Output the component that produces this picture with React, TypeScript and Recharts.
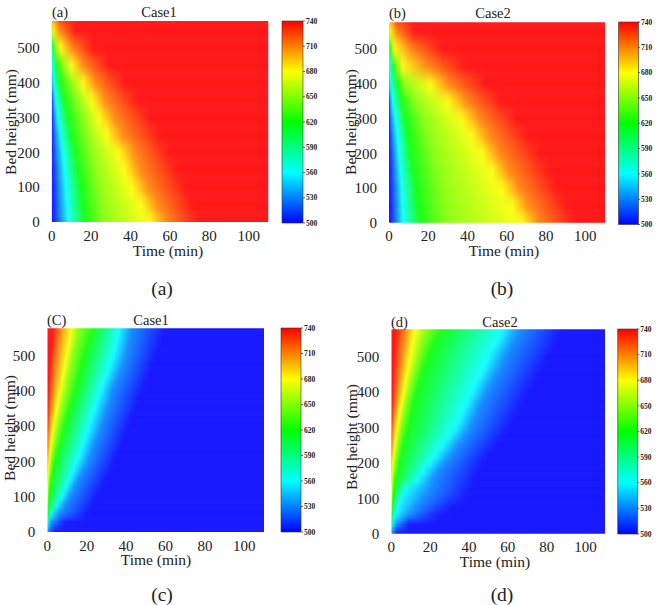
import React from "react";
import { ComposedChart, BarChart, Bar, XAxis, YAxis } from "recharts";

const timeTicks = [0, 20, 40, 60, 80, 100];
const heightTicks = [0, 100, 200, 300, 400, 500];
const barTicks = [500, 530, 560, 590, 620, 650, 680, 710, 740];
const barColors = ["#0000ff", "#0080ff", "#00ffff", "#00ff80", "#00ff00", "#80ff00", "#ffff00", "#ff8000", "#ff0000"];
const risingLevels = [500, 530, 560, 620, 650, 680, 710, 740];
const fallingLevels = [740, 710, 680, 650, 620, 560, 530, 500];

// Each row: the time (min) at which the bed height reaches each level of the list above.
const heightsCoarse = [0, 50, 100, 150, 200, 250, 300, 350, 400, 450, 500, 550, 600];
const heightsFine = [0, 25, 50, 75, 100, 125, 150, 175, 200, 225, 250, 275, 300, 325, 350, 375, 400, 425, 450, 475, 500, 525, 550, 575, 600];

const panelA = [
  [0.5, 4.5, 8.4, 17, 27, 50, 58, 75],
  [0.5, 4, 7.8, 16, 25.5, 45.5, 53.5, 71.5],
  [0.3, 3.7, 7.2, 15, 24, 40.6, 49, 68],
  [0.2, 3.2, 6.5, 13.5, 22, 37, 45, 64],
  [0, 2.6, 5.6, 12, 20, 33.8, 42, 60],
  [0, 2, 4.4, 10.3, 18, 28, 36, 55],
  [0, 1.3, 3, 8.5, 16, 24, 32, 50],
  [0, 0.7, 2, 6.5, 13, 20.5, 27, 44],
  [0, 0, 0.8, 4.3, 9.8, 16, 22, 37],
  [0, 0, 0.3, 2.5, 6, 10, 16, 29],
  [0, 0, 0, 0.7, 2, 4.5, 10, 21],
  [0, 0, 0, 0, 0.1, 0.7, 4, 12],
  [0, 0, 0, 0, 0, 0, 0, 4],
];
const panelB = [
  [0.5, 4, 7, 16, 30, 68, 76, 95],
  [0.5, 3.8, 6.7, 15, 28.5, 62.8, 71, 91],
  [0.3, 3.5, 6.3, 14, 27, 57.5, 66, 86],
  [0.2, 3, 5.7, 12.5, 25, 52.5, 61, 82],
  [0, 2.5, 5, 11, 23, 47.5, 56, 77],
  [0, 1.8, 4.2, 10, 20.5, 42.3, 51, 71],
  [0, 1, 3.2, 8.5, 17.5, 37, 46, 65],
  [0, 0.5, 1.8, 6.5, 13, 30, 39, 57],
  [0, 0, 0.5, 4.5, 8, 21, 30, 49],
  [0, 0, 0.2, 2.5, 4.2, 7, 19, 39],
  [0, 0, 0, 0.7, 1.3, 2.8, 11, 27],
  [0, 0, 0, 0, 0, 0.5, 4, 13],
  [0, 0, 0, 0, 0, 0, 0.5, 4],
];
const panelC = [
  [0, 0, 0, 0, 0, 0, 0, 4],
  [0, 0, 0, 0, 0, 0.3, 2, 9],
  [0, 0, 0, 0, 0.2, 2, 6, 20],
  [0, 0, 0, 0.1, 0.5, 4.8, 9, 23],
  [0, 0, 0, 0.3, 1, 7.5, 11.5, 25],
  [0, 0, 0.1, 0.6, 1.6, 9.5, 13.8, 27.5],
  [0, 0, 0.2, 1, 2.3, 11.5, 16, 30],
  [0, 0, 0.5, 1.5, 3.1, 13.3, 18.5, 32],
  [0, 0.1, 0.8, 2, 4, 15, 21, 34],
  [0, 0.2, 1.3, 2.8, 5.2, 16.7, 22.5, 36],
  [0, 0.4, 1.8, 3.7, 6.5, 18.3, 24, 38],
  [0, 0.7, 2.4, 4.6, 7.8, 19.7, 26, 39.5],
  [0, 1, 3, 5.5, 9, 21, 27.5, 41],
  [0, 1.5, 3.8, 6.5, 10.3, 22.5, 29, 43],
  [0.1, 2, 4.6, 7.5, 11.5, 24, 30.5, 45],
  [0.2, 2.5, 5.4, 8.6, 13, 25.5, 32, 46.5],
  [0.4, 3, 6.3, 9.7, 14.5, 27, 33, 48],
  [0.6, 3.5, 7.2, 10.5, 15.5, 28.7, 35, 50],
  [0.9, 4, 8, 11.3, 16.7, 30.3, 37, 52],
  [1.2, 4.5, 8.8, 12.2, 17.8, 32, 38.5, 53.5],
  [1.5, 5, 9.7, 13, 19, 33.5, 40, 55],
  [2, 5.7, 10.5, 14, 20.5, 34.5, 41, 57],
  [2.5, 6.3, 11.3, 15, 22, 35.5, 42, 58.5],
  [3, 7, 12, 16, 23.5, 36.5, 43, 60],
  [3.5, 7.5, 12.5, 17, 25, 37.5, 44, 61],
];
const panelD = [
  [0, 0, 0, 0, 0, 0, 0, 3],
  [0, 0, 0, 0, 0, 0.3, 3, 9],
  [0, 0, 0, 0, 0.2, 1.5, 9, 24],
  [0, 0, 0, 0.1, 0.5, 3, 13, 31],
  [0, 0, 0, 0.3, 1, 4.5, 17, 38],
  [0, 0, 0.1, 0.6, 1.5, 7.5, 20, 41],
  [0, 0, 0.2, 1, 2, 13.5, 21.5, 43],
  [0, 0, 0.4, 1.5, 3.3, 16.5, 24, 45],
  [0, 0.1, 0.7, 2.1, 4, 20, 28, 47],
  [0, 0.2, 1.1, 2.8, 5.1, 23.3, 31.5, 50],
  [0, 0.4, 1.7, 3.5, 6.3, 26.5, 34.5, 54],
  [0, 0.6, 2.3, 4.3, 7.5, 30, 38, 57.5],
  [0, 0.9, 3, 5.2, 8.7, 33, 41, 61],
  [0.1, 1.4, 3.8, 6, 9.8, 35, 43, 63.5],
  [0.2, 2, 4.6, 7, 10.8, 37, 45, 66],
  [0.3, 2.7, 5.4, 8, 12, 39.3, 47, 68.5],
  [0.4, 3.3, 6.3, 9, 13, 41.5, 49.5, 71],
  [0.6, 3.8, 7, 10.2, 14.5, 43.5, 52, 73.5],
  [0.8, 4.4, 7.8, 11.5, 16, 46, 54.5, 76],
  [1, 5, 8.7, 12.7, 17.5, 48, 57, 78.5],
  [1.2, 5.5, 9.5, 14, 19, 50, 59, 81],
  [1.6, 6, 10.3, 15.2, 21, 52.5, 61.5, 84],
  [2, 6.8, 11.2, 16.5, 23.5, 55, 64, 86],
  [2.5, 7.5, 12, 18, 26, 57, 66, 88],
  [3, 8, 13, 19, 28, 59, 68, 90],
];

const SERIF = "'Liberation Serif', serif";
const TIME_MAX = 110;
const HEIGHT_MAX = 577;
const levelColor = (lv: number) => barColors[barTicks.indexOf(lv)];

const panels = [
  { id: "a", tag: "(a)", title: "Case1", caption: "(a)", rows: panelA, heights: heightsCoarse, levels: risingLevels, blur: "blurWide", barSize: 19,
    plot: [51.7, 21, 268.5, 222], cbar: [282, 21, 303, 223], tagAt: [52, 17], titleAt: [159, 17], capAt: [162, 295], timeAt: [168, 256], bedAt: [12, 122] },
  { id: "b", tag: "(b)", title: "Case2", caption: "(b)", rows: panelB, heights: heightsCoarse, levels: risingLevels, blur: "blurWide", barSize: 19,
    plot: [389, 22.3, 605, 222.7], cbar: [618.5, 22, 638, 224.5], tagAt: [389, 18], titleAt: [493, 18], capAt: [502, 295], timeAt: [504, 256], bedAt: [352, 122] },
  { id: "c", tag: "(C)", title: "Case1", caption: "(c)", rows: panelC, heights: heightsFine, levels: fallingLevels, blur: "blurNarrow", barSize: 10,
    plot: [47.3, 328.3, 264, 532], cbar: [281, 328, 301, 532], tagAt: [47, 325], titleAt: [151, 325], capAt: [162, 601], timeAt: [156, 565], bedAt: [11, 428] },
  { id: "d", tag: "(d)", title: "Case2", caption: "(d)", rows: panelD, heights: heightsFine, levels: fallingLevels, blur: "blurNarrow", barSize: 10,
    plot: [391.3, 329.3, 605, 533.7], cbar: [617.7, 329, 637.3, 534], tagAt: [391, 327], titleAt: [500, 327], capAt: [502, 601], timeAt: [495, 566.5], bedAt: [353, 437] },
];

const W = 660;
const H = 605;
const layer: React.CSSProperties = { position: "absolute", left: 0, top: 0 };

function RowShape(props: any) {
  const { x, y, width, height, payload } = props;
  return <rect x={x} y={y} width={width} height={height} fill={`url(#${payload.grad})`} />;
}

function Heat({ p }: { p: (typeof panels)[number] }) {
  const step = p.heights[1] - p.heights[0];
  const base = p.heights.map((h, i) => ({ h, span: TIME_MAX, grad: `${p.id}-r${i}`, times: p.rows[i] }));
  const first = base[0];
  const last = base[base.length - 1];
  const data = [
    { ...first, h: first.h - 2 * step },
    { ...first, h: first.h - step },
    ...base,
    { ...last, h: last.h + step },
  ];
  const [x0, y0, x1, y1] = p.plot;
  const yw = 40;
  const xh = 30;
  return (
    <div style={layer} className="heat">
      <ComposedChart
        width={W}
        height={H}
        data={data}
        layout="vertical"
        barCategoryGap={0}
        margin={{ left: x0 - yw, top: y0, right: W - x1, bottom: H - y1 - xh }}
      >
        <defs>
          {base.map((r) => (
            <linearGradient key={r.grad} id={r.grad} x1="0" y1="0" x2="1" y2="0">
              {r.times.map((t, i) => (
                <stop key={i} offset={t / TIME_MAX} stopColor={levelColor(p.levels[i])} />
              ))}
            </linearGradient>
          ))}
        </defs>
        <XAxis
          type="number"
          domain={[0, TIME_MAX]}
          ticks={timeTicks}
          interval={0}
          height={xh}
          allowDataOverflow
          tickLine={false}
          axisLine={false}
          tickMargin={2}
          tick={{ fontFamily: SERIF, fontSize: 15, fill: "#222" }}
        />
        <YAxis
          type="number"
          dataKey="h"
          domain={[0, HEIGHT_MAX]}
          ticks={heightTicks}
          interval={0}
          width={yw}
          reversed
          allowDataOverflow
          tickLine={false}
          axisLine={false}
          tickMargin={6}
          tick={{ fontFamily: SERIF, fontSize: 15, fill: "#222" }}
        />
        <Bar dataKey="span" barSize={p.barSize} shape={RowShape} isAnimationActive={false} className={p.blur} />
      </ComposedChart>
    </div>
  );
}

function ColorBar({ p }: { p: (typeof panels)[number] }) {
  const [x0, y0, x1, y1] = p.cbar;
  const yw = 24;
  const gid = `cb-${p.id}`;
  return (
    <div style={layer}>
      <BarChart
        width={W}
        height={H}
        data={[{ name: "T", range: [barTicks[0], barTicks[barTicks.length - 1]] }]}
        barCategoryGap={0}
        margin={{ left: x0, top: y0, right: W - x1 - yw, bottom: H - y1 }}
      >
        <defs>
          <linearGradient id={gid} x1="0" y1="1" x2="0" y2="0">
            {barTicks.map((t, i) => (
              <stop key={t} offset={i / (barTicks.length - 1)} stopColor={barColors[i]} />
            ))}
          </linearGradient>
        </defs>
        <XAxis dataKey="name" hide />
        <YAxis
          orientation="right"
          type="number"
          domain={[500, 740]}
          ticks={barTicks}
          interval={0}
          width={yw}
          axisLine={false}
          tickLine={{ stroke: "#222", strokeWidth: 0.7 }}
          tickSize={2}
          tickMargin={1}
          tick={{ fontFamily: SERIF, fontSize: 7.5, fontWeight: 700, fill: "#222" }}
        />
        <Bar dataKey="range" fill={`url(#${gid})`} stroke="#333" strokeWidth={0.6} isAnimationActive={false} />
      </BarChart>
    </div>
  );
}

function Labels() {
  const t = { fontFamily: SERIF, fill: "#222" };
  return (
    <svg width={W} height={H} style={{ ...layer, pointerEvents: "none" }}>
      {panels.map((p) => (
        <g key={p.id}>
          <text {...t} x={p.tagAt[0]} y={p.tagAt[1]} fontSize={14.5}>{p.tag}</text>
          <text {...t} x={p.titleAt[0]} y={p.titleAt[1]} fontSize={14.5} textAnchor="middle">{p.title}</text>
          <text {...t} x={p.capAt[0]} y={p.capAt[1]} fontSize={19.5} textAnchor="middle">{p.caption}</text>
          <text {...t} x={p.timeAt[0]} y={p.timeAt[1]} fontSize={15.5} textAnchor="middle">Time (min)</text>
          <text
            {...t}
            fontSize={15.5}
            textAnchor="middle"
            transform={`translate(${p.bedAt[0] + 4},${p.bedAt[1]}) rotate(-90)`}
          >
            Bed height (mm)
          </text>
        </g>
      ))}
    </svg>
  );
}

export default function App() {
  return (
    <div style={{ position: "absolute", left: 0, top: 0, width: W, height: H, background: "#fff", overflow: "hidden" }}>
      <style>{`
        .blurWide .recharts-bar-rectangles { filter: url(#vblurWide); }
        .blurNarrow .recharts-bar-rectangles { filter: url(#vblurNarrow); }
      `}</style>
      <svg width={0} height={0} style={{ position: "absolute" }}>
        <defs>
          <filter id="vblurWide" colorInterpolationFilters="sRGB" x="0" y="-0.1" width="1" height="1.2">
            <feGaussianBlur stdDeviation="0.4 6.5" />
          </filter>
          <filter id="vblurNarrow" colorInterpolationFilters="sRGB" x="0" y="-0.1" width="1" height="1.2">
            <feGaussianBlur stdDeviation="0.4 3.5" />
          </filter>
        </defs>
      </svg>
      {panels.map((p) => (
        <React.Fragment key={p.id}>
          <Heat p={p} />
          <ColorBar p={p} />
        </React.Fragment>
      ))}
      <Labels />
    </div>
  );
}
